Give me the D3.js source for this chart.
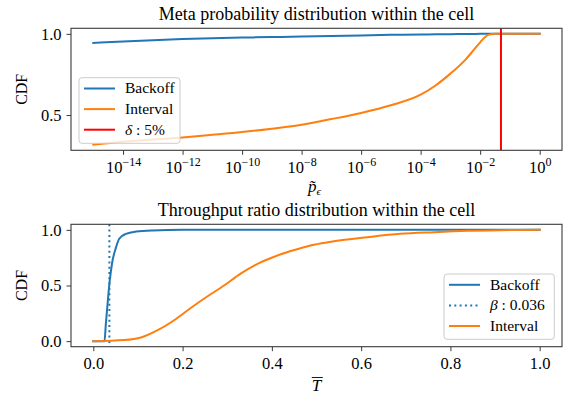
<!DOCTYPE html>
<html>
<head>
<meta charset="utf-8">
<script src="https://cdn.jsdelivr.net/npm/d3@7"></script>
<style>
  body { margin: 0; background: #fff; }
  svg { display: block; }
  text { font-family: 'Liberation Serif', 'Times New Roman', serif; fill: #000; }
</style>
</head>
<body>
<svg width="573" height="397"></svg>
<script>
// top panel: meta probability (x stored as log10 exponent)
let metaExp = [-15, -14, -13, -12, -11, -10, -9, -8, -7, -6, -5, -4, -3.5, -3, -2.5, -2.25, -2, -1.85, -1.7, -1.5, -1, 0];
let metaBackoff = [0.944, 0.953, 0.961, 0.968, 0.973, 0.977, 0.980, 0.983, 0.987, 0.990, 0.994, 0.996, 0.997, 0.998, 0.999, 0.9995, 1, 1, 1, 1, 1, 1];
let metaInterval = [0.317, 0.335, 0.349, 0.362, 0.378, 0.395, 0.416, 0.440, 0.475, 0.513, 0.560, 0.625, 0.682, 0.755, 0.840, 0.893, 0.948, 0.978, 0.995, 1, 1, 1];
let delta = 0.05;
let metaTickExp = [-14, -12, -10, -8, -6, -4, -2, 0];

// bottom panel: throughput ratio
let tpBackoffX = [0, 0.025, 0.028, 0.032, 0.037, 0.042, 0.051, 0.058, 0.073, 0.096, 0.133, 0.2, 1.0];
let tpBackoffY = [0, 0, 0.15, 0.34, 0.55, 0.70, 0.845, 0.92, 0.964, 0.985, 0.995, 1, 1];
let tpIntervalX = [0, 0.069, 0.107, 0.144, 0.181, 0.219, 0.256, 0.293, 0.33, 0.368, 0.405, 0.442, 0.464, 0.494, 0.539, 0.614, 0.688, 0.763, 0.838, 0.912, 1.0];
let tpIntervalY = [0, 0.01, 0.033, 0.098, 0.188, 0.30, 0.403, 0.50, 0.606, 0.695, 0.758, 0.81, 0.835, 0.866, 0.898, 0.934, 0.964, 0.979, 0.991, 0.997, 1.0];
let beta = 0.036;
let tpTicks = [0, 0.2, 0.4, 0.6, 0.8, 1.0];
let cdfTicksTop = [0.5, 1.0];
let cdfTicksBottom = [0, 0.5, 1.0];

let blue = '#1f77b4', orange = '#ff7f0e', red = '#ff0000';
let svg = d3.select('svg');
let left = 71, right = 562;

function pad(ext, f) {
  let d = (ext[1] - ext[0]) * f;
  return [ext[0] - d, ext[1] + d];
}

function frame(top, bottom) {
  svg.append('rect')
    .attr('x', left).attr('y', top)
    .attr('width', right - left).attr('height', bottom - top)
    .attr('fill', 'none').attr('stroke', '#3a3a3a').attr('stroke-width', 1.1);
}

function yAxis(y, ticks, fmt) {
  let a = svg.append('g')
    .attr('transform', 'translate(' + left + ',0)')
    .call(d3.axisLeft(y).tickValues(ticks).tickSize(4.5).tickPadding(5).tickFormat(fmt));
  a.select('.domain').remove();
  a.selectAll('.tick line').attr('stroke', '#3a3a3a');
  a.selectAll('.tick text').attr('font-size', 16.5).attr('font-family', null);
}

function legend(x, y, w, h, items) {
  let g = svg.append('g').attr('transform', 'translate(' + x + ',' + y + ')');
  g.append('rect').attr('width', w).attr('height', h).attr('rx', 3)
    .attr('fill', 'white').attr('fill-opacity', 0.8)
    .attr('stroke', '#cccccc').attr('stroke-width', 1);
  items.forEach(function(it, i) {
    let cy = 10.8 + i * 20.6;
    g.append('line').attr('x1', 5).attr('x2', 36).attr('y1', cy).attr('y2', cy)
      .attr('stroke', it.color).attr('stroke-width', 2)
      .attr('stroke-dasharray', it.dash || null);
    let t = g.append('text').attr('x', 46).attr('y', cy + 5).attr('font-size', 15.5);
    if (it.sym) {
      t.append('tspan').attr('font-style', 'italic').text(it.sym);
      t.append('tspan').text(it.rest);
    } else {
      t.text(it.label);
    }
  });
}

// ---------- top panel ----------
let t0 = 28.3, t1 = 150.3;
let xTop = d3.scaleLog()
  .domain(pad(d3.extent(metaExp), 0.05).map(function(e) { return Math.pow(10, e); }))
  .range([left, right]);
let yTop = d3.scaleLinear()
  .domain(pad([d3.min(metaInterval), d3.max(metaBackoff)], 0.05))
  .range([t1, t0]);

let lineTop = d3.line()
  .curve(d3.curveMonotoneX)
  .x(function(d) { return xTop(Math.pow(10, d[0])); })
  .y(function(d) { return yTop(d[1]); });

let clipTop = svg.append('clipPath').attr('id', 'clipTop');
clipTop.append('rect').attr('x', left).attr('y', t0).attr('width', right - left).attr('height', t1 - t0);
let gTop = svg.append('g').attr('clip-path', 'url(#clipTop)');

gTop.append('path')
  .datum(metaExp.map(function(e, i) { return [e, metaBackoff[i]]; }))
  .attr('fill', 'none').attr('stroke', blue).attr('stroke-width', 2)
  .attr('stroke-linejoin', 'round').attr('stroke-linecap', 'square')
  .attr('d', lineTop);
gTop.append('path')
  .datum(metaExp.map(function(e, i) { return [e, metaInterval[i]]; }))
  .attr('fill', 'none').attr('stroke', orange).attr('stroke-width', 2)
  .attr('stroke-linejoin', 'round').attr('stroke-linecap', 'square')
  .attr('d', lineTop);
gTop.append('line')
  .attr('x1', xTop(delta)).attr('x2', xTop(delta))
  .attr('y1', t0).attr('y2', t1)
  .attr('stroke', red).attr('stroke-width', 2);

frame(t0, t1);
yAxis(yTop, cdfTicksTop, d3.format('.1f'));

let axTop = svg.append('g')
  .attr('transform', 'translate(0,' + t1 + ')')
  .call(d3.axisBottom(xTop).tickValues(metaTickExp.map(function(e) { return Math.pow(10, e); })).tickSize(4.5).tickFormat(''));
axTop.select('.domain').remove();
axTop.selectAll('.tick line').attr('stroke', '#3a3a3a');
axTop.selectAll('.tick').each(function(d) {
  let e = Math.round(Math.log10(d));
  let t = d3.select(this).append('text')
    .attr('y', 23).attr('text-anchor', 'middle').attr('font-size', 16.5);
  t.append('tspan').text('10');
  t.append('tspan').attr('dy', -7.5).attr('font-size', 12)
    .text(e < 0 ? '\u2212' + (-e) : String(e));
});

svg.append('text').attr('x', (left + right) / 2).attr('y', 19.5)
  .attr('text-anchor', 'middle').attr('font-size', 18)
  .text('Meta probability distribution within the cell');

svg.append('text').attr('transform', 'translate(27,' + (t0 + t1) / 2 + ') rotate(-90)')
  .attr('text-anchor', 'middle').attr('font-size', 16).text('CDF');

let pl = svg.append('text').attr('x', (left + right) / 2 - 2).attr('y', 192)
  .attr('text-anchor', 'middle').attr('font-size', 17);
pl.append('tspan').attr('font-style', 'italic').text('p\u0303');
pl.append('tspan').attr('font-style', 'italic').attr('font-size', 11).attr('dy', 3).text('\u03f5');

legend(79, 77.7, 101, 65.6, [
  {color: blue, label: 'Backoff'},
  {color: orange, label: 'Interval'},
  {color: red, sym: '\u03b4', rest: ' : 5%'}
]);

// ---------- bottom panel ----------
let b0 = 224.3, b1 = 346.7;
let xBot = d3.scaleLinear().domain(pad([0, 1], 0.05)).range([left, right]);
let yBot = d3.scaleLinear().domain(pad([0, 1], 0.05)).range([b1, b0]);
let lineBot = d3.line()
  .curve(d3.curveMonotoneX)
  .x(function(d) { return xBot(d[0]); })
  .y(function(d) { return yBot(d[1]); });

svg.append('path')
  .datum(tpBackoffX.map(function(x, i) { return [x, tpBackoffY[i]]; }))
  .attr('fill', 'none').attr('stroke', blue).attr('stroke-width', 2)
  .attr('stroke-linejoin', 'round').attr('stroke-linecap', 'square')
  .attr('d', lineBot);
svg.append('line')
  .attr('x1', xBot(beta)).attr('x2', xBot(beta))
  .attr('y1', b0).attr('y2', b1)
  .attr('stroke', blue).attr('stroke-width', 2).attr('stroke-dasharray', '2,3.3');
svg.append('path')
  .datum(tpIntervalX.map(function(x, i) { return [x, tpIntervalY[i]]; }))
  .attr('fill', 'none').attr('stroke', orange).attr('stroke-width', 2)
  .attr('stroke-linejoin', 'round').attr('stroke-linecap', 'square')
  .attr('d', lineBot);

frame(b0, b1);
yAxis(yBot, cdfTicksBottom, d3.format('.1f'));

let axBot = svg.append('g')
  .attr('transform', 'translate(0,' + b1 + ')')
  .call(d3.axisBottom(xBot).tickValues(tpTicks).tickSize(4.5).tickPadding(6).tickFormat(d3.format('.1f')));
axBot.select('.domain').remove();
axBot.selectAll('.tick line').attr('stroke', '#3a3a3a');
axBot.selectAll('.tick text').attr('font-size', 16.5).attr('font-family', null);

svg.append('text').attr('x', (left + right) / 2).attr('y', 216)
  .attr('text-anchor', 'middle').attr('font-size', 18)
  .text('Throughput ratio distribution within the cell');

svg.append('text').attr('transform', 'translate(27,' + (b0 + b1) / 2 + ') rotate(-90)')
  .attr('text-anchor', 'middle').attr('font-size', 16).text('CDF');

let tl = svg.append('text').attr('x', (left + right) / 2).attr('y', 391)
  .attr('text-anchor', 'middle').attr('font-size', 17).attr('font-style', 'italic').text('T');
let bb = tl.node().getBBox();
svg.append('line').attr('x1', bb.x).attr('x2', bb.x + bb.width)
  .attr('y1', bb.y + 1.5).attr('y2', bb.y + 1.5)
  .attr('stroke', '#000').attr('stroke-width', 0.9);

legend(444, 274, 110.3, 65.3, [
  {color: blue, label: 'Backoff'},
  {color: blue, dash: '2,3.3', sym: '\u03b2', rest: ' : 0.036'},
  {color: orange, label: 'Interval'}
]);
</script>
</body>
</html>
